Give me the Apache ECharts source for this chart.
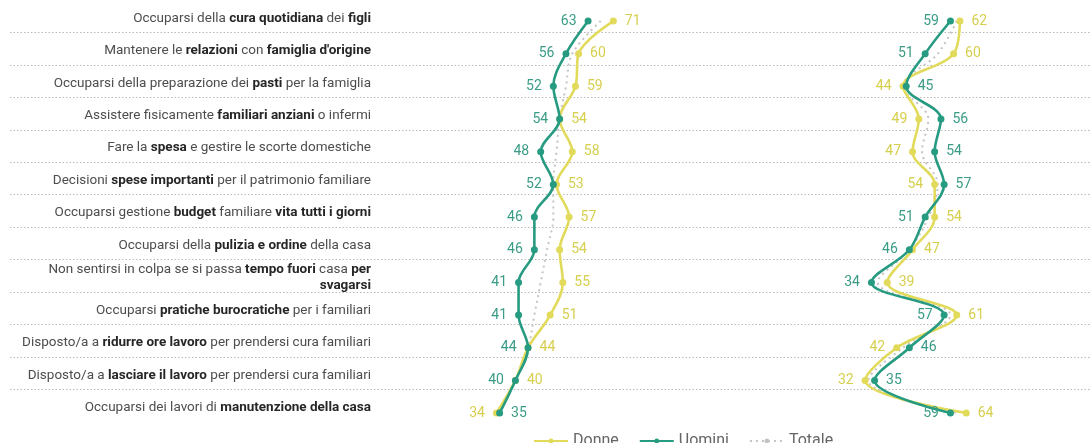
<!DOCTYPE html>
<html><head><meta charset="utf-8">
<script src="https://cdn.jsdelivr.net/npm/echarts@6/dist/echarts.min.js"></script>
<style>html,body{margin:0;padding:0;background:#fff}#c{width:1090px;height:443px}</style>
</head><body><div id="c"></div>
<script>
const categories = [
  "Occuparsi della **cura quotidiana** dei **figli**",
  "Mantenere le **relazioni** con **famiglia d'origine**",
  "Occuparsi della preparazione dei **pasti** per la famiglia",
  "Assistere fisicamente **familiari anziani** o infermi",
  "Fare la **spesa** e gestire le scorte domestiche",
  "Decisioni **spese importanti** per il patrimonio familiare",
  "Occuparsi gestione **budget** familiare **vita tutti i giorni**",
  "Occuparsi della **pulizia e ordine** della casa",
  "Non sentirsi in colpa se si passa **tempo fuori** casa **per\nsvagarsi**",
  "Occuparsi **pratiche burocratiche** per i familiari",
  "Disposto/a a **ridurre ore lavoro** per prendersi cura familiari",
  "Disposto/a a **lasciare il lavoro** per prendersi cura familiari",
  "Occuparsi dei lavori di **manutenzione della casa**"
];
const seriesNames = ["Donne", "Uomini", "Totale"];
// left panel
const donneL  = [71, 60, 59, 54, 58, 53, 57, 54, 55, 51, 44, 40, 34];
const uominiL = [63, 56, 52, 54, 48, 52, 46, 46, 41, 41, 44, 40, 35];
const totaleL = [67, 58, 56, 54, 53, 52, 52, 50, 48, 46, 44, 40, 34];
// right panel
const donneR  = [62, 60, 44, 49, 47, 54, 54, 47, 39, 61, 42, 32, 64];
const uominiR = [59, 51, 45, 56, 54, 57, 51, 46, 34, 57, 46, 35, 59];
const totaleR = [61, 55, 44, 52, 50, 55, 52, 46, 36, 59, 44, 33, 61];

const TEAL = '#269b81', YELLOW = '#e2da5a', GRAY = '#c4c4c4';
const FONT = 'Roboto';

function richLabel(s) {
  let bold = false;
  return s.split('\n').map(line => {
    const parts = line.split('**');
    let out = '';
    parts.forEach((p, i) => {
      if (i > 0) bold = !bold;
      if (p) out += '{' + (bold ? 'b' : 'n') + '|' + p + '}';
    });
    return out;
  }).join('\n');
}

function withPos(vals, other, isMen) {
  return vals.map((v, i) => {
    const o = other[i];
    let left = isMen ? (v <= o) : (v < o);
    return { value: v, label: { position: left ? 'left' : 'right' } };
  });
}

function mainSeries(name, vals, other, isMen, gi) {
  const col = isMen ? TEAL : YELLOW;
  return {
    name, type: 'line', xAxisIndex: gi, yAxisIndex: gi,
    data: withPos(vals, other, isMen),
    smooth: 0.35, symbol: 'circle', symbolSize: 7,
    z: isMen ? 4 : 3,
    itemStyle: { color: col },
    lineStyle: { color: col, width: 2.6 },
    label: { show: true, color: isMen ? '#3a9c86' : '#d6cf4e', fontFamily: FONT, fontSize: 14, distance: 8 },
    emphasis: { disabled: true }
  };
}
function totSeries(vals, gi) {
  return {
    name: 'Totale', type: 'line', xAxisIndex: gi, yAxisIndex: gi,
    data: vals, smooth: 0.35, symbol: 'none', z: 2,
    itemStyle: { color: GRAY },
    lineStyle: { color: GRAY, width: 2, type: [2, 4] },
    emphasis: { disabled: true }
  };
}

const rowTop = 4.7, rowH = 424.7;
const option = {
  animation: false,
  grid: [
    { left: 10, right: 0, top: 32.45, height: 357 },   // separators
    { left: 389, width: 316, top: 2, height: 422 },     // category labels
    { left: 389, width: 316, top: rowTop, height: rowH },
    { left: 764, width: 316, top: rowTop, height: rowH }
  ],
  xAxis: [0, 1, 2, 3].map(i => ({ gridIndex: i, type: 'value', min: 0, max: 100, show: false })),
  yAxis: [
    { gridIndex: 0, type: 'value', min: 0, max: categories.length - 2, interval: 1,
      axisLine: { show: false }, axisTick: { show: false }, axisLabel: { show: false },
      splitLine: { show: true, lineStyle: { color: '#b8b8b8', type: [1.5, 2], width: 1 } } },
    { gridIndex: 1, type: 'category', inverse: true, data: categories,
      axisLine: { show: false }, axisTick: { show: false }, splitLine: { show: false },
      axisLabel: { margin: 18, align: 'right', formatter: v => richLabel(v), lineHeight: 16,
        rich: {
          n: { fontFamily: FONT, fontSize: 13.5, color: '#4d4d4d', lineHeight: 16 },
          b: { fontFamily: FONT, fontSize: 13.5, color: '#262626', fontWeight: 'bold', lineHeight: 16 }
        } } },
    { gridIndex: 2, type: 'category', inverse: true, data: categories, show: false },
    { gridIndex: 3, type: 'category', inverse: true, data: categories, show: false }
  ],
  legend: {
    data: seriesNames, left: 528, top: 428, itemWidth: 34, itemHeight: 6, itemGap: 20,
    textStyle: { fontFamily: FONT, fontSize: 16, color: '#666' }
  },
  series: [
    totSeries(totaleL, 2),
    mainSeries('Donne', donneL, uominiL, false, 2),
    mainSeries('Uomini', uominiL, donneL, true, 2),
    totSeries(totaleR, 3),
    mainSeries('Donne', donneR, uominiR, false, 3),
    mainSeries('Uomini', uominiR, donneR, true, 3)
  ]
};
echarts.init(document.getElementById('c'), null, { renderer: 'canvas' }).setOption(option);
</script></body></html>
